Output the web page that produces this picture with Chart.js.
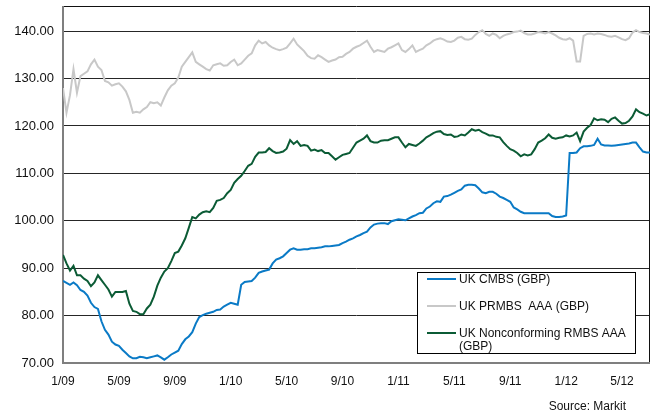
<!DOCTYPE html>
<html>
<head>
<meta charset="utf-8">
<script src="https://cdn.jsdelivr.net/npm/chart.js@4/dist/chart.umd.min.js"></script>
<style>
  html, body { margin: 0; padding: 0; background: #fff; }
  canvas { display: block; }
</style>
</head>
<body>
<canvas id="c" width="651" height="419"></canvas>
<script>
// ---- data ----
// one sample every quarter month, starting 1/09
const sampleStepMonths = 0.25;
const xTickLabels = ["1/09","5/09","9/09","1/10","5/10","9/10","1/11","5/11","9/11","1/12","5/12"];
const yTicks = [70, 80, 90, 100, 110, 120, 130, 140];
const seriesNames = ["UK CMBS (GBP)", "UK PRMBS  AAA (GBP)", "UK Nonconforming RMBS AAA (GBP)"];

const ukCmbs = [
  87.3,86.9,86.5,87.0,86.4,85.4,85.0,84.2,82.7,81.8,81.4,78.8,77.0,76.0,74.5,73.9,73.6,72.8,72.1,71.4,71.0,71.0,71.3,71.2,71.0,71.2,71.4,71.6,71.2,70.7,71.2,71.8,72.2,72.6,74.0,75.0,75.6,76.5,78.3,79.7,80.1,80.4,80.6,
  80.8,81.2,81.3,81.9,82.3,82.7,82.5,82.3,86.5,87.1,87.2,87.3,88.0,89.0,89.3,89.5,89.7,91.0,91.8,92.1,92.5,93.2,93.9,94.2,93.9,93.9,94.0,94.0,94.2,94.2,94.3,94.4,94.6,94.6,94.7,94.8,94.9,95.3,95.6,96.0,
  96.3,96.7,97.0,97.4,97.7,98.6,99.2,99.4,99.5,99.5,99.3,99.9,100.1,100.3,100.2,100.1,100.5,100.9,101.2,101.6,101.7,102.6,103.0,103.7,104.1,104.0,105.1,105.2,105.5,105.9,106.3,106.6,107.4,107.6,107.6,107.5,106.8,106.0,105.8,106.1,
  106.1,105.7,105.1,104.8,104.4,104.0,102.8,102.4,101.9,101.6,101.6,101.6,101.6,101.6,101.6,101.6,101.6,101.0,100.8,100.8,100.9,101.1,114.3,114.3,114.4,115.3,115.7,115.7,115.8,116.0,117.3,116.1,115.9,115.9,115.8,115.9,116.0,116.1,116.2,116.3,116.5,116.5,115.5,114.6,114.4,114.4
];
const ukPrmbsAAA = [
  128.0,122.8,126.5,132.0,127.0,130.5,131.0,131.5,133.0,134.0,132.5,131.8,129.5,129.2,128.5,128.8,129.0,128.3,127.3,125.5,122.8,123.0,122.8,123.5,124.0,125.0,124.8,125.0,124.3,126.0,127.5,128.5,129.0,130.2,132.5,133.5,134.5,135.5,133.5,133.0,132.5,132.0,131.7,
  132.8,133.0,133.2,132.7,132.8,133.5,134.0,132.8,133.2,134.0,134.8,135.3,137.0,138.0,137.4,137.7,137.0,136.5,136.2,136.0,136.2,136.5,137.4,138.4,137.2,136.5,135.8,134.8,134.3,134.2,134.9,134.5,134.0,133.5,133.8,134.0,134.5,134.6,135.2,135.6,
  136.3,136.7,137.0,137.5,138.0,136.7,135.6,136.0,135.8,135.6,136.3,136.6,137.0,137.4,136.0,135.6,136.2,137.0,135.6,136.0,136.3,137.0,137.4,138.0,138.3,138.5,138.2,137.8,137.7,138.0,138.6,138.8,138.3,138.2,138.4,139.2,139.8,140.2,139.4,139.0,
  139.5,139.2,138.5,139.0,139.3,139.5,139.8,139.9,140.1,139.6,139.3,139.3,139.5,139.8,139.7,139.5,139.8,139.5,139.1,138.6,138.3,138.2,138.5,138.0,133.6,133.6,139.0,139.4,139.5,139.3,139.5,139.4,139.2,138.9,138.8,139.0,138.7,138.3,138.1,138.5,139.7,140.2,139.8,139.6,139.5,139.3
];
const ukNonconfRmbsAAA = [
  92.8,91.0,89.5,90.5,88.5,88.5,87.8,87.3,86.2,87.0,88.5,87.5,86.5,85.5,84.0,85.0,85.0,85.0,85.2,82.5,81.0,80.8,80.3,80.3,81.5,82.3,84.0,86.3,88.0,89.3,90.0,91.5,93.2,93.5,94.8,96.3,98.5,100.8,100.5,101.3,101.8,102.0,101.8,
  102.7,104.2,104.4,104.8,105.8,106.5,108.0,108.8,109.5,110.5,111.6,112.0,113.5,114.4,114.4,114.5,115.3,114.7,114.3,114.4,114.6,115.2,117.0,116.2,116.8,115.8,116.0,115.8,114.8,115.0,114.7,114.9,114.3,114.3,113.6,112.9,113.4,113.9,114.1,114.3,
  115.4,116.5,116.9,117.3,118.0,116.8,116.5,116.5,116.9,117.0,117.0,117.3,117.6,117.6,116.5,115.5,116.2,116.0,115.8,116.3,116.9,117.6,118.0,118.5,118.8,118.9,118.3,118.1,118.2,117.7,117.8,118.2,118.0,118.6,119.3,119.0,119.2,118.7,118.4,118.0,
  118.0,117.7,117.6,116.6,115.8,115.1,114.8,114.3,113.6,114.0,113.8,114.0,115.1,116.5,116.9,117.4,118.2,117.5,117.3,117.5,117.6,118.0,117.8,118.0,118.6,116.8,118.8,119.6,120.2,121.6,121.2,121.4,121.3,120.8,121.5,121.8,121.1,120.5,120.6,121.1,122.0,123.5,122.9,122.6,122.2,122.5
];

const colors = ["#0a7ac6", "#c8c8c8", "#0b5b35"];
const FONT = "Arial, 'Liberation Sans', Helvetica, sans-serif";

function toPoints(values) {
  return values.map((v, i) => ({ x: i * sampleStepMonths, y: v }));
}

const framePlugin = {
  id: 'frame',
  beforeDatasetsDraw(chart) {
    const { ctx, chartArea: { left, right, top, bottom } } = chart;
    ctx.save();
    ctx.strokeStyle = '#111';
    ctx.lineWidth = 1;
    ctx.beginPath();
    ctx.moveTo(left, top + 0.5); ctx.lineTo(right, top + 0.5);
    ctx.moveTo(right - 0.5, top); ctx.lineTo(right - 0.5, bottom);
    ctx.stroke();
    ctx.strokeStyle = '#7f7f7f';
    ctx.lineWidth = 2;
    ctx.beginPath();
    ctx.moveTo(left, top); ctx.lineTo(left, bottom);
    ctx.moveTo(left - 1, bottom); ctx.lineTo(right, bottom);
    ctx.stroke();
    ctx.restore();
  },
  afterDatasetsDraw(chart) {
    const { ctx } = chart;
    ctx.save();
    // legend box
    const bx = 417, by = 272, bw = 218, bh = 81;
    ctx.fillStyle = '#fff';
    ctx.fillRect(bx, by, bw, bh);
    ctx.strokeStyle = '#000';
    ctx.lineWidth = 1;
    ctx.strokeRect(bx + 0.5, by + 0.5, bw, bh);
    const rows = [279, 306, 333];
    ctx.font = '12px ' + FONT;
    ctx.textBaseline = 'middle';
    ctx.textAlign = 'left';
    chart.data.datasets.forEach((ds, i) => {
      const y = rows[i];
      ctx.strokeStyle = ds.borderColor;
      ctx.lineWidth = 2;
      ctx.beginPath();
      ctx.moveTo(427, y); ctx.lineTo(456, y);
      ctx.stroke();
      ctx.fillStyle = '#111';
      if (i === 2) {
        ctx.fillText('UK Nonconforming RMBS AAA', 459, y + 0.5);
        ctx.fillText('(GBP)', 459, y + 14);
      } else {
        ctx.fillText(ds.label, 459, y + 0.5);
      }
    });
    ctx.restore();
  },
  afterDraw(chart) {
    const { ctx } = chart;
    ctx.save();
    ctx.font = '12px ' + FONT;
    ctx.fillStyle = '#111';
    ctx.textAlign = 'right';
    ctx.textBaseline = 'middle';
    ctx.fillText('Source: Markit', 626, 407);
    ctx.restore();
  }
};

new Chart(document.getElementById('c'), {
  type: 'line',
  data: {
    datasets: [
      { label: seriesNames[0], data: toPoints(ukCmbs), borderColor: colors[0] },
      { label: seriesNames[1], data: toPoints(ukPrmbsAAA), borderColor: colors[1] },
      { label: seriesNames[2], data: toPoints(ukNonconfRmbsAAA), borderColor: colors[2] }
    ].map(d => Object.assign(d, { borderWidth: 2, pointRadius: 0, tension: 0, fill: false }))
  },
  options: {
    responsive: false,
    devicePixelRatio: 1,
    animation: false,
    events: [],
    layout: { autoPadding: false, padding: { top: 6, right: 1, left: 0, bottom: 0 } },
    plugins: { legend: { display: false }, tooltip: { enabled: false }, title: { display: false } },
    scales: {
      x: {
        type: 'linear',
        min: 0,
        max: 42,
        grid: { display: false, drawTicks: false },
        border: { display: false },
        afterBuildTicks(scale) { scale.ticks = xTickLabels.map((_, i) => ({ value: i * 4 })); },
        afterFit(scale) { scale.height = 56; scale.paddingLeft = 0; scale.paddingRight = 0; },
        ticks: {
          autoSkip: false,
          maxRotation: 0,
          padding: 11,
          color: '#111',
          font: { family: FONT, size: 12 },
          callback: (v, i) => xTickLabels[i]
        }
      },
      y: {
        min: 70,
        max: 145.3,
        grid: { color: '#262626', lineWidth: 1, drawTicks: false },
        border: { display: false },
        afterBuildTicks(scale) { scale.ticks = yTicks.map(v => ({ value: v })); },
        afterFit(scale) { scale.width = 63; scale.paddingTop = 0; scale.paddingBottom = 0; },
        ticks: {
          padding: 9,
          color: '#111',
          font: { family: FONT, size: 13 },
          callback: v => Number(v).toFixed(2)
        }
      }
    }
  },
  plugins: [framePlugin]
});
</script>
</body>
</html>
